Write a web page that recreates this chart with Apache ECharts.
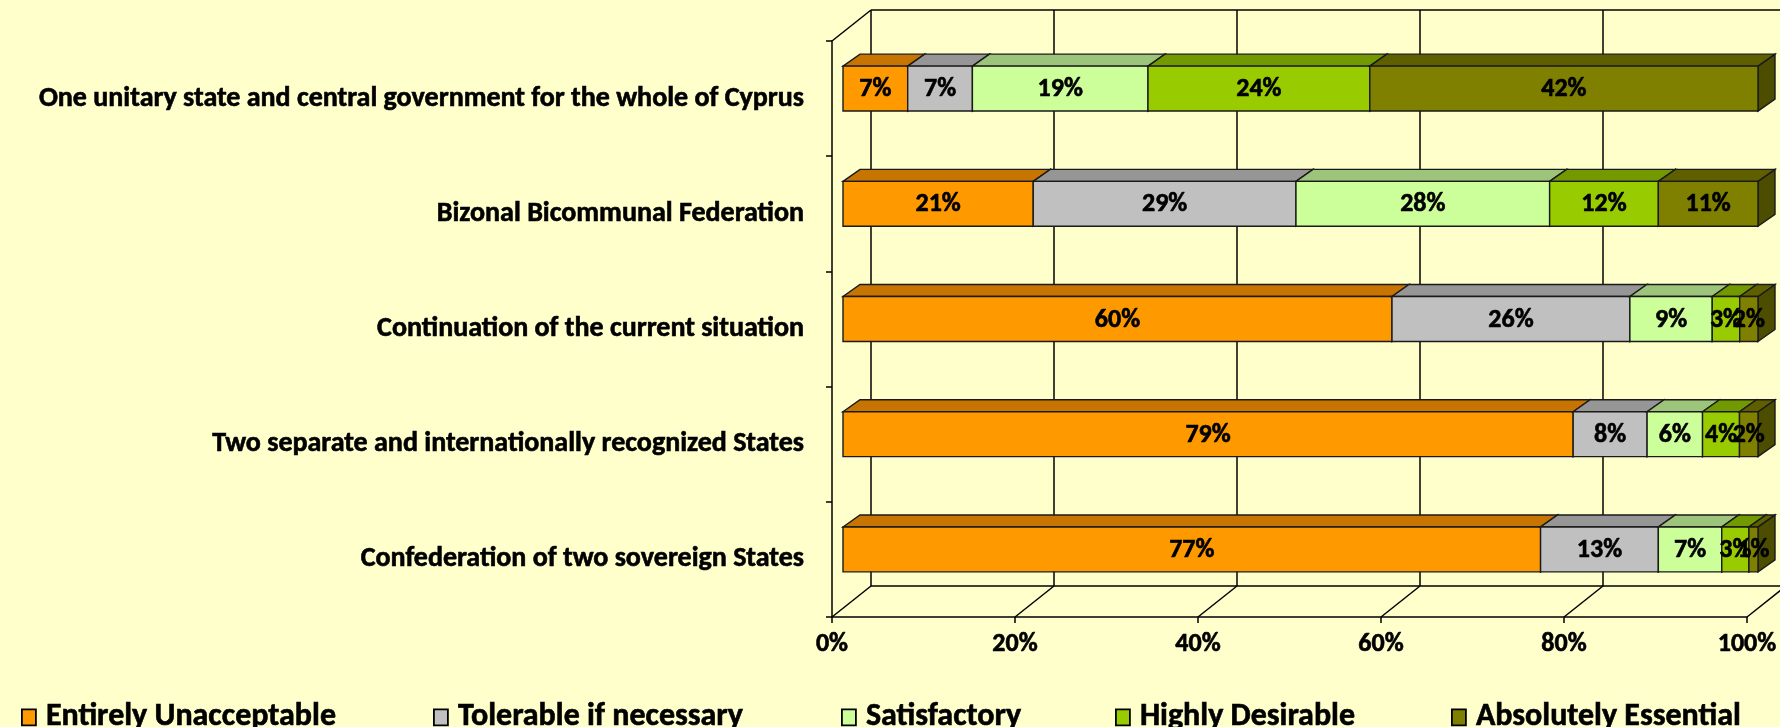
<!DOCTYPE html>
<html>
<head>
    <meta charset="utf-8">
    <title>Cyprus solutions</title>
    <style>
        html, body { margin: 0; padding: 0; background: #ffffcc; }
        #main { width: 1780px; height: 727px; }
    </style>
</head>
<body>
<div id="main"></div>
<script src="https://cdn.jsdelivr.net/npm/echarts@6/dist/echarts.min.js"></script>
<script type="text/javascript">
    // data, top row first
    var categories = [
        'One unitary state and central government for the whole of Cyprus',
        'Bizonal Bicommunal Federation',
        'Continuation of the current situation',
        'Two separate and internationally recognized States',
        'Confederation of two sovereign States'
    ];
    var seriesNames = ['Entirely Unacceptable', 'Tolerable if necessary', 'Satisfactory', 'Highly Desirable', 'Absolutely Essential'];
    var unacceptable = [7, 21, 60, 79, 77];
    var tolerable = [7, 29, 26, 8, 13];
    var satisfactory = [19, 28, 9, 6, 7];
    var desirable = [24, 12, 3, 4, 3];
    var essential = [42, 11, 2, 2, 1];
    var xTicks = [0, 20, 40, 60, 80, 100];

    var seriesValues = [unacceptable, tolerable, satisfactory, desirable, essential];
    var colors = [
        {front: '#ff9900', top: '#c87400', side: '#a05c00'},
        {front: '#c0c0c0', top: '#969696', side: '#808080'},
        {front: '#ccff99', top: '#9cc47a', side: '#88ad69'},
        {front: '#99cc00', top: '#739900', side: '#5c7a00'},
        {front: '#808000', top: '#5f5f00', side: '#4d4d00'}
    ];
    var FONT = 'Carlito, "Liberation Sans", sans-serif';
    var DEPTH = [39, -31];      // depth of the whole box
    var BAR_OFF = [11, -10];    // where the bar front sits inside the box
    var BAR_DEPTH = [17, -12];  // thickness of the bars
    // thin outline so the text looks as heavy as in the original
    var heavy = {textBorderColor: '#000', textBorderWidth: 0.6};

    var totals = categories.map(function (c, i) {
        return seriesValues.reduce(function (s, arr) { return s + arr[i]; }, 0);
    });
    function startOf(s, i) {
        var t = 0;
        for (var k = 0; k < s; k++) t += seriesValues[k][i];
        return t;
    }

    var lineStyle = {stroke: '#000', lineWidth: 1.5};

    function renderFrame(params, api) {
        var cs = params.coordSys;
        var gx = cs.x, gy = cs.y, gw = cs.width, gh = cs.height;
        var dx = DEPTH[0], dy = DEPTH[1];
        var kids = [];
        function line(x1, y1, x2, y2) {
            kids.push({type: 'line', shape: {x1: x1, y1: y1, x2: x2, y2: y2}, style: lineStyle});
        }
        line(gx, gy, gx + dx, gy + dy);
        line(gx + dx, gy + dy, gx + gw + dx, gy + dy);
        line(gx + dx, gy + gh + dy, gx + gw + dx, gy + gh + dy);
        xTicks.forEach(function (v) {
            var x = api.coord([v, 0])[0];
            line(x + dx, gy + dy, x + dx, gy + gh + dy);
            line(x, gy + gh, x + dx, gy + gh + dy);
        });
        return {type: 'group', children: kids};
    }

    function barRenderer(s) {
        return function (params, api) {
            var i = api.value(0), v = api.value(1);
            var a = startOf(s, i) / totals[i] * 100;
            var b = (startOf(s, i) + v) / totals[i] * 100;
            var p0 = api.coord([a, i]), p1 = api.coord([b, i]);
            var h = api.size([0, 1])[1] * 0.39;
            var x0 = p0[0] + BAR_OFF[0], x1 = p1[0] + BAR_OFF[0];
            var yc = p0[1] + BAR_OFF[1], y0 = yc - h / 2, y1 = yc + h / 2;
            var dx = BAR_DEPTH[0], dy = BAR_DEPTH[1];
            var c = colors[s];
            var edge = {stroke: '#1a1a1a', lineWidth: 1.4};
            return {
                type: 'group',
                children: [
                    {type: 'polygon', shape: {points: [[x1, y0], [x1 + dx, y0 + dy], [x1 + dx, y1 + dy], [x1, y1]]},
                        style: Object.assign({fill: c.side}, edge)},
                    {type: 'polygon', shape: {points: [[x0, y0], [x1, y0], [x1 + dx, y0 + dy], [x0 + dx, y0 + dy]]},
                        style: Object.assign({fill: c.top}, edge)},
                    {type: 'rect', shape: {x: x0, y: y0, width: x1 - x0, height: y1 - y0},
                        style: Object.assign({fill: c.front}, edge)},
                    {type: 'text', x: (x0 + x1) / 2, y: yc + 1, z2: 100,
                        style: Object.assign({text: v + '%', fill: '#000', font: 'bold 26px ' + FONT,
                            align: 'center', verticalAlign: 'middle'}, {stroke: '#000', lineWidth: 0.6})}
                ]
            };
        };
    }

    var legendLeft = [16, 428, 836, 1110, 1446];

    var series = [{
        type: 'custom',
        name: 'frame',
        z: 1,
        silent: true,
        data: [[0, 0]],
        renderItem: renderFrame
    }];
    seriesNames.forEach(function (name, s) {
        series.push({
            type: 'custom',
            name: name,
            z: 2,
            itemStyle: {color: colors[s].front, borderColor: '#000'},
            data: seriesValues[s].map(function (v, i) { return [i, v]; }),
            encode: {x: 1, y: 0},
            renderItem: barRenderer(s)
        });
    });

    var myChart = echarts.init(document.getElementById('main'));
    var option = {
        backgroundColor: '#ffffcc',
        animation: false,
        grid: {left: 832, top: 41, width: 915, height: 576, outerBoundsMode: 'none', containLabel: false},
        legend: seriesNames.map(function (name, s) {
            return {
                data: [name],
                left: legendLeft[s],
                top: 696,
                icon: 'rect',
                itemWidth: 14,
                itemHeight: 16,
                itemStyle: {borderColor: '#000', borderWidth: 1.8},
                textStyle: Object.assign({fontFamily: FONT, fontWeight: 'bold', fontSize: 32, color: '#000',
                    padding: [0, 0, 0, 5]}, heavy),
                selectedMode: false
            };
        }),
        xAxis: {
            type: 'value',
            min: 0,
            max: 100,
            interval: 20,
            axisLine: {show: true, lineStyle: {color: '#000', width: 1.5}},
            axisTick: {show: true, length: 6, lineStyle: {color: '#000', width: 1.5}},
            splitLine: {show: false},
            axisLabel: Object.assign({formatter: '{value}%', margin: 14, color: '#000', fontFamily: FONT,
                fontWeight: 'bold', fontSize: 26}, heavy)
        },
        yAxis: {
            type: 'category',
            inverse: true,
            data: categories,
            axisLine: {show: true, lineStyle: {color: '#000', width: 1.5}},
            axisTick: {show: true, length: 6, lineStyle: {color: '#000', width: 1.5}},
            axisLabel: Object.assign({margin: 28, color: '#000', fontFamily: FONT, fontWeight: 'bold',
                fontSize: 28}, heavy)
        },
        series: series
    };
    myChart.setOption(option);
</script>
</body>
</html>
